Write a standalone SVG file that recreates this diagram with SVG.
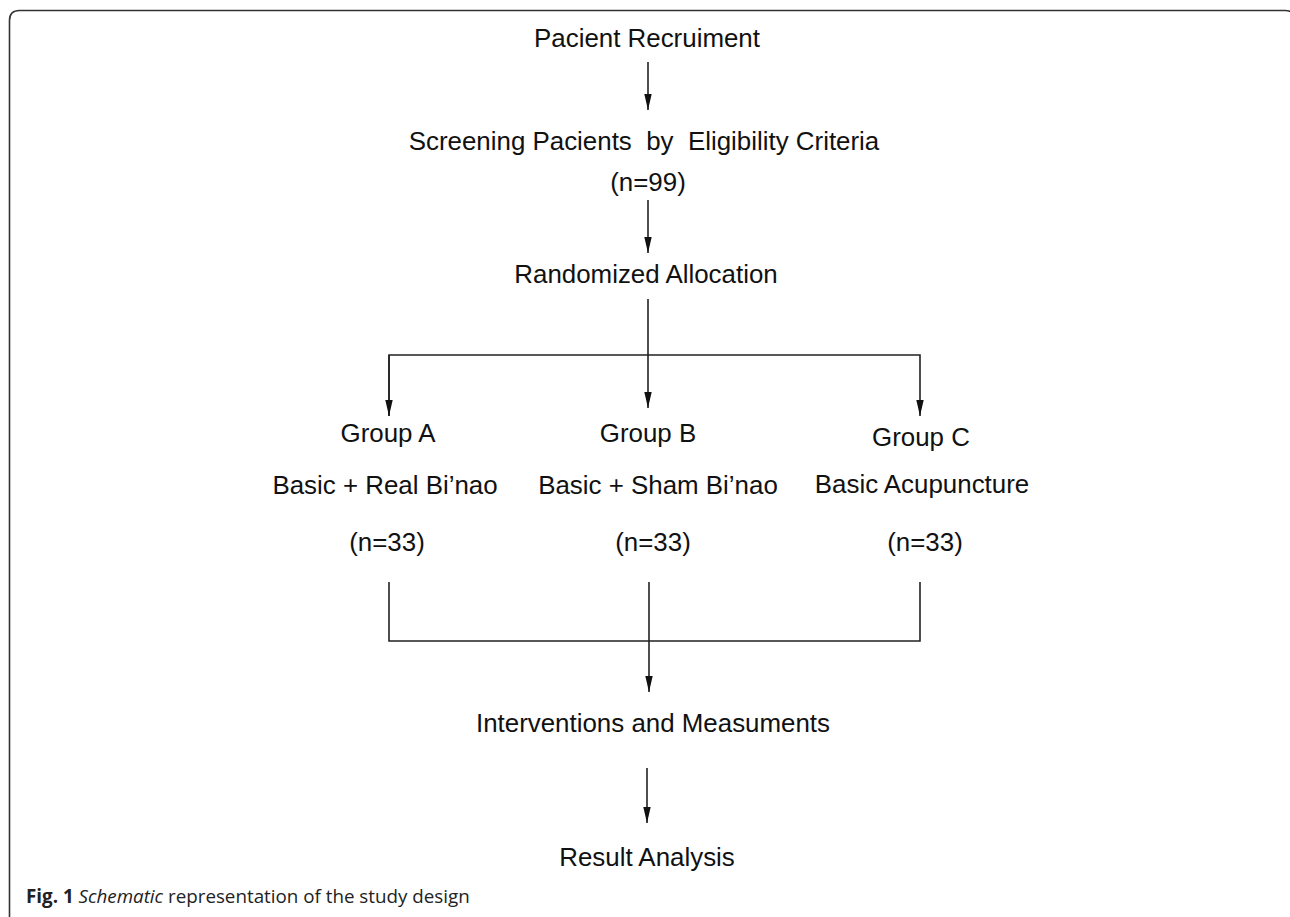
<svg xmlns="http://www.w3.org/2000/svg" width="1290" height="917" viewBox="0 0 1290 917">
<style>
.t{font-family:"Liberation Sans",Arial,sans-serif;font-size:25.9px;fill:#111;text-anchor:middle}
.c{fill:none;stroke:#222;stroke-width:1.6}
.cap{font-family:"Open Sans",sans-serif;font-size:18.8px;fill:#222}
</style>
<defs>
<marker id="ah" viewBox="0 0 16 8" refX="16" refY="4" markerWidth="16" markerHeight="8" markerUnits="userSpaceOnUse" orient="auto">
<path d="M0,0.3 L16,4 L0,7.7 z" fill="#111"/>
</marker>
</defs>
<rect width="1290" height="917" fill="#fff"/>
<path d="M9.5,925 V20.5 Q9.5,10.5 19.5,10.5 H1285 Q1295,10.5 1295,20.5" fill="none" stroke="#333" stroke-width="1.6"/>
<g id="n1"><text class="t" x="647" y="47">Pacient Recruiment</text></g>
<g id="n2"><text class="t" x="644" y="150" xml:space="preserve">Screening Pacients  by  Eligibility Criteria</text><text class="t" x="648" y="191">(n=99)</text></g>
<g id="n3"><text class="t" x="646" y="283">Randomized Allocation</text></g>
<g id="nA"><text class="t" x="388" y="442">Group A</text><text class="t" x="385" y="494">Basic + Real Bi’nao</text><text class="t" x="387" y="551">(n=33)</text></g>
<g id="nB"><text class="t" x="648" y="442">Group B</text><text class="t" x="658" y="494">Basic + Sham Bi’nao</text><text class="t" x="653" y="551">(n=33)</text></g>
<g id="nC"><text class="t" x="921" y="446">Group C</text><text class="t" x="922" y="493">Basic Acupuncture</text><text class="t" x="925" y="551">(n=33)</text></g>
<g id="n4"><text class="t" x="653" y="732">Interventions and Measuments</text></g>
<g id="n5"><text class="t" x="647" y="866">Result Analysis</text></g>
<g id="connectors">
<path class="c" d="M648,62 V110" marker-end="url(#ah)"/>
<path class="c" d="M648,200 V253" marker-end="url(#ah)"/>
<path class="c" d="M648,299 V408" marker-end="url(#ah)"/>
<path class="c" d="M389,416 V355 H920 V416" marker-end="url(#ah)"/>
<path class="c" d="M389,355 V416" marker-end="url(#ah)"/>
<path class="c" d="M389,582 V641 H920 V582"/>
<path class="c" d="M649,582 V692" marker-end="url(#ah)"/>
<path class="c" d="M647,768 V823" marker-end="url(#ah)"/>
</g>
<text class="cap" x="26" y="903"><tspan font-weight="bold">Fig. 1</tspan> <tspan font-style="italic">Schematic</tspan> representation of the study design</text>
</svg>
